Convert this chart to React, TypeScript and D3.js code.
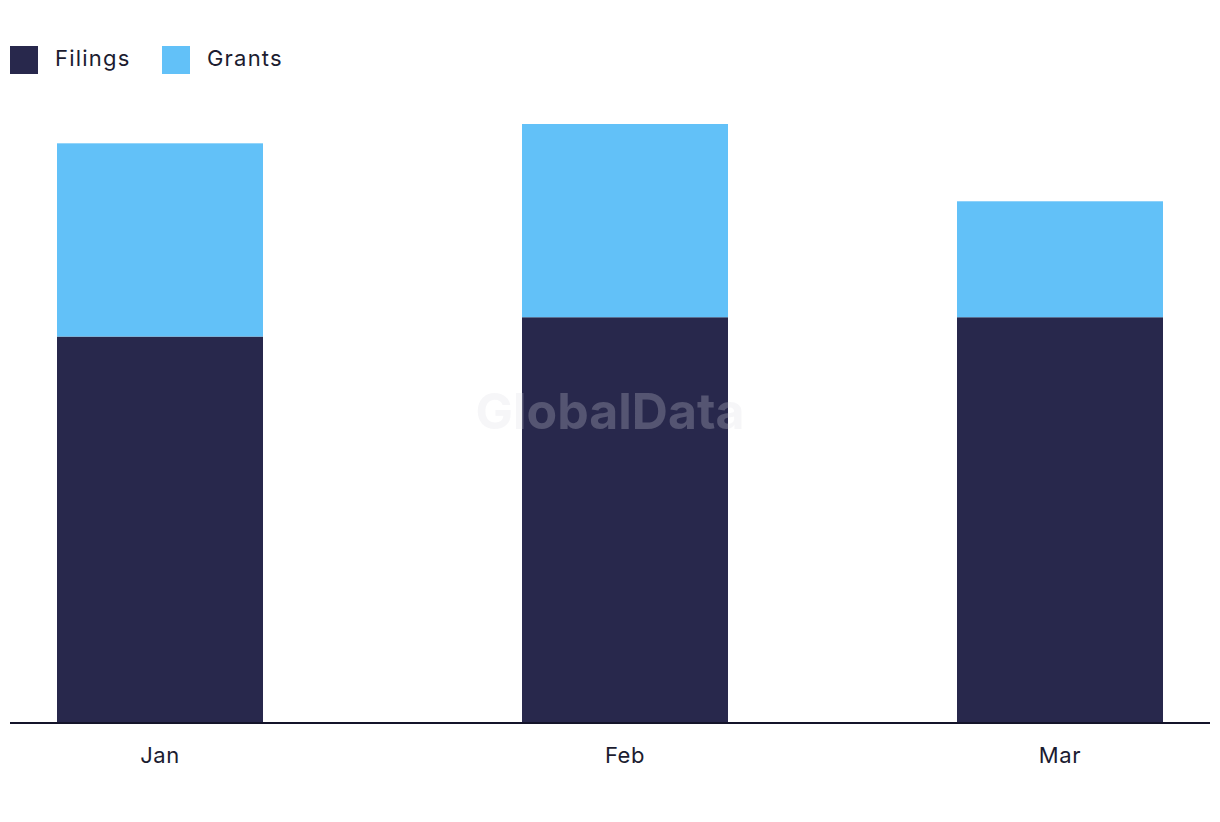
import React from "react";
import * as d3 from "d3";

const months = ["Jan", "Feb", "Mar"];
const dates = ["2024-01-15", "2024-02-15", "2024-03-15"];
const filings = [20, 21, 21];
const grants = [10, 10, 6];
const seriesNames = ["Filings", "Grants"];
const colors = ["#28284c", "#62c1f8"];

const W = 1220;
const H = 822;
const parse = d3.timeParse("%Y-%m-%d");

export default function App() {
  const x = d3
    .scaleTime()
    .domain([parse("2024-01-05")!, parse("2024-03-25")!])
    .range([10, 1210]);
  const y = d3.scaleLinear().domain([0, 31]).range([723, 124]);
  const barW = 206;
  const rows = months.map((m, i) => ({ m, date: parse(dates[i])!, Filings: filings[i], Grants: grants[i] }));
  const stacked = d3.stack<any>().keys(seriesNames)(rows);
  const font = "Inter, 'Noto Sans', sans-serif";
  return (
    <div style={{ position: "absolute", left: 0, top: 0 }}>
      <svg width={W} height={H} style={{ display: "block", background: "#fff" }}>
        {seriesNames.map((s, i) => {
          const lx = i === 0 ? 10 : 162;
          return (
            <g key={s}>
              <rect x={lx} y={46} width={28} height={28} fill={colors[i]} />
              <text x={lx + 45} y={66} fontFamily={font} fontSize={22} letterSpacing={1.2} fill="#1c1c30">
                {s}
              </text>
            </g>
          );
        })}
        {stacked.map((layer, li) => (
          <g key={layer.key} fill={colors[li]}>
            {layer.map((d: any, i: number) => (
              <rect
                key={i}
                x={x(d.data.date) - barW / 2}
                y={y(d[1])}
                width={barW}
                height={y(d[0]) - y(d[1])}
              />
            ))}
          </g>
        ))}
        <text
          x={610}
          y={429}
          textAnchor="middle"
          fontFamily={font}
          fontWeight={700}
          fontSize={50}
          fill="#dcdce4"
          fillOpacity={0.25}
        >
          GlobalData
        </text>
        <line x1={10} x2={1210} y1={723} y2={723} stroke="#14142a" strokeWidth={2} />
        {rows.map((r) => (
          <text
            key={r.m}
            x={x(r.date)}
            y={763}
            textAnchor="middle"
            fontFamily={font}
            fontSize={22}
            letterSpacing={0.6}
            fill="#1c1c30"
          >
            {r.m}
          </text>
        ))}
      </svg>
    </div>
  );
}
